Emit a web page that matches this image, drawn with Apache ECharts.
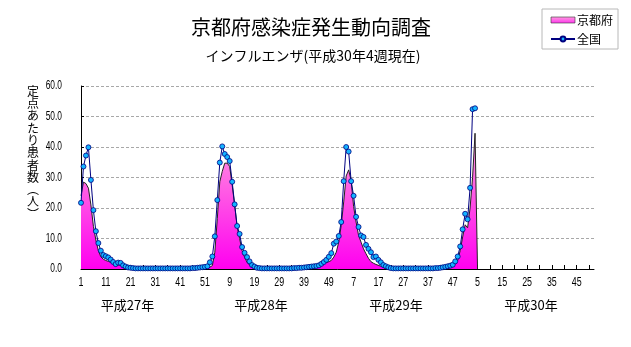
<!DOCTYPE html>
<html>
<head>
<meta charset="utf-8">
<script src="https://cdn.jsdelivr.net/npm/echarts@6/dist/echarts.min.js"></script>
<style>
html,body{margin:0;padding:0;background:#fff;}
#chart{width:631px;height:347px;}
</style>
</head>
<body>
<div id="chart"></div>
<script>
// Titles and labels
var titleText = '京都府感染症発生動向調査';
var subtitleText = 'インフルエンザ(平成30年4週現在)';
var yAxisTitle = ['定','点','あ','た','り','患','者','数','︵','人','︶'];
var yearLabels = ['平成27年', '平成28年', '平成29年', '平成30年'];
var seriesNames = ['京都府', '全国'];
var weeksPerYear = 52;
var labelEvery = 10;

// Week category labels (weeks 1..52 for each year shown)
var weekLabels = [];
for (var y = 0; y < yearLabels.length; y++) {
  for (var w = 1; w <= weeksPerYear; w++) weekLabels.push(String(w));
}

// 京都府 (per-sentinel reports), from 平成27年 week 1
var kyoto = [
  24.0, 28.5, 28.0, 26.5, 21.0, 14.0, 9.5, 6.0, 4.0, 3.2,
  2.8, 2.5, 2.2, 1.8, 1.5, 1.4, 1.2, 0.8, 0.5, 0.3,
  0.2, 0.1, 0.1, 0.1, 0.1, 0.1, 0.1, 0.1, 0.1, 0.1,
  0.1, 0.1, 0.1, 0.1, 0.1, 0.1, 0.1, 0.1, 0.1, 0.1,
  0.1, 0.1, 0.1, 0.1, 0.1, 0.1, 0.1, 0.1, 0.1, 0.1,
  0.1, 0.3, 0.6, 1.1, 5.5, 16.5, 28.6, 32.0, 34.7, 34.7,
  33.6, 27.5, 21.0, 13.8, 10.0, 6.0, 3.9, 2.2, 1.3, 0.8,
  0.5, 0.3, 0.2, 0.1, 0.1, 0.1, 0.1, 0.1, 0.1, 0.1,
  0.1, 0.1, 0.1, 0.1, 0.1, 0.1, 0.1, 0.1, 0.1, 0.1,
  0.1, 0.1, 0.1, 0.2, 0.4, 0.6, 0.9, 1.3, 1.7, 2.1,
  2.4, 2.8, 3.9, 5.5, 8.8, 14.3, 22.0, 30.5, 32.5, 29.0,
  20.5, 15.4, 11.0, 8.8, 6.6, 5.0, 3.5, 2.4, 1.9, 1.5,
  1.2, 0.9, 0.6, 0.4, 0.2, 0.1, 0.1, 0.1, 0.1, 0.1,
  0.1, 0.1, 0.1, 0.1, 0.1, 0.1, 0.1, 0.1, 0.1, 0.1,
  0.1, 0.1, 0.1, 0.1, 0.1, 0.1, 0.1, 0.2, 0.3, 0.5,
  0.8, 1.6, 2.8, 6.0, 10.5, 14.5, 13.5, 20.0, 30.0, 44.5,
  0
];

// 全国 (per-sentinel reports), from 平成27年 week 1
var national = [
  21.7, 33.6, 37.2, 39.9, 29.2, 19.3, 12.4, 8.5, 6.0, 4.6,
  4.2, 3.8, 3.1, 2.3, 1.6, 2.1, 2.0, 1.2, 0.8, 0.5,
  0.4, 0.3, 0.2, 0.2, 0.2, 0.2, 0.2, 0.2, 0.2, 0.2,
  0.2, 0.2, 0.2, 0.2, 0.2, 0.2, 0.2, 0.2, 0.2, 0.2,
  0.2, 0.2, 0.2, 0.2, 0.2, 0.3, 0.3, 0.4, 0.5, 0.6,
  0.7, 0.9, 2.2, 4.1, 10.7, 22.6, 34.9, 40.2, 37.7, 36.7,
  35.4, 28.6, 21.2, 14.1, 11.5, 7.2, 5.3, 3.9, 2.5, 1.3,
  0.8, 0.4, 0.3, 0.2, 0.2, 0.2, 0.2, 0.2, 0.2, 0.2,
  0.2, 0.2, 0.2, 0.2, 0.2, 0.2, 0.3, 0.3, 0.4, 0.4,
  0.5, 0.6, 0.7, 0.8, 0.9, 1.0, 1.2, 1.7, 2.3, 3.0,
  4.0, 5.2, 8.3, 9.0, 10.8, 15.4, 28.8, 40.0, 38.5, 28.8,
  24.0, 17.1, 13.8, 11.0, 10.5, 7.9, 6.6, 5.5, 3.9, 4.1,
  3.0, 2.2, 1.3, 0.9, 0.55, 0.3, 0.2, 0.2, 0.2, 0.2,
  0.2, 0.2, 0.2, 0.2, 0.2, 0.2, 0.2, 0.2, 0.2, 0.2,
  0.2, 0.2, 0.2, 0.3, 0.3, 0.4, 0.55, 0.7, 0.9, 1.1,
  1.4, 2.5, 4.1, 7.4, 13.0, 18.1, 16.3, 26.6, 52.4, 52.7
];

var yMin = 0, yMax = 60, yStep = 10;
var yTickValues = [0, 10, 20, 30, 40, 50, 60];

var jpFont = '"Noto Sans CJK JP", "Noto Sans", sans-serif';
var numFont = '"Liberation Sans", "DejaVu Sans", sans-serif';

var pinkGrad = new echarts.graphic.LinearGradient(0, 0, 0, 1, [
  {offset: 0, color: '#FF9EDF'},
  {offset: 0.5, color: '#FF4FE6'},
  {offset: 1, color: '#FF00F0'}
]);
var legendGrad = new echarts.graphic.LinearGradient(0, 0, 0, 1, [
  {offset: 0, color: '#FF9EDF'},
  {offset: 1, color: '#FF33EE'}
]);

var chart = echarts.init(document.getElementById('chart'), null, {renderer: 'canvas'});

var option = {
  animation: false,
  backgroundColor: '#fff',
  grid: {left: 81, right: 37, top: 86, bottom: 78, containLabel: false, outerBoundsMode: 'none'},
  legend: {
    orient: 'vertical',
    left: 542, top: 9,
    padding: [4, 5, 3, 8],
    itemGap: 5,
    itemWidth: 24,
    itemHeight: 6,
    borderColor: '#B8B8B8',
    borderWidth: 1,
    textStyle: {fontFamily: jpFont, fontSize: 12, color: '#000', lineHeight: 14, padding: [0, 0, 0, -3]},
    data: [
      {name: seriesNames[0], icon: 'rect', itemStyle: {color: legendGrad, borderColor: '#333', borderWidth: 0.6}},
      {name: seriesNames[1]}
    ]
  },
  xAxis: {
    type: 'category',
    data: weekLabels,
    boundaryGap: false,
    axisLine: {show: true, lineStyle: {color: '#000', width: 1}},
    axisTick: {show: true, inside: true, length: 4, interval: 4, lineStyle: {color: '#000'}},
    axisLabel: {show: false},
    splitLine: {show: false}
  },
  yAxis: {
    type: 'value',
    min: yMin, max: yMax, interval: yStep,
    axisLine: {show: true, lineStyle: {color: '#000', width: 1}},
    axisTick: {show: true, inside: true, length: 3, lineStyle: {color: '#000'}},
    axisLabel: {show: false},
    splitLine: {show: true, lineStyle: {color: '#A8A8A8', type: [3, 2], width: 1}}
  },
  series: [
    {
      name: seriesNames[0],
      type: 'line',
      data: kyoto,
      symbol: 'none',
      z: 2,
      color: '#FF55DD',
      lineStyle: {color: '#222', width: 1},
      areaStyle: {color: pinkGrad, opacity: 1}
    },
    {
      name: seriesNames[1],
      type: 'line',
      data: national,
      z: 3,
      symbol: 'circle',
      symbolSize: 5,
      showAllSymbol: true,
      color: '#14B4FF',
      lineStyle: {color: '#000080', width: 1},
      itemStyle: {color: '#14B4FF', borderColor: '#000080', borderWidth: 0.8}
    }
  ]
};

chart.setOption(option);

// Text elements (titles, axis title, tick labels placed via the chart's own scales)
var graphics = [
  {type: 'text', x: 311, y: 27, style: {text: titleText, font: '20px ' + jpFont, fill: '#000', textAlign: 'center', textVerticalAlign: 'middle'}},
  {type: 'text', x: 313, y: 56, style: {text: subtitleText, font: '14px ' + jpFont, fill: '#000', textAlign: 'center', textVerticalAlign: 'middle'}},
  {type: 'text', x: 33, y: 85, style: {text: yAxisTitle.join('\n'), font: '12px ' + jpFont, lineHeight: 12.3, fill: '#000', textAlign: 'center', textVerticalAlign: 'top'}}
];
var yearX = [127.5, 261, 396, 531];
for (var i = 0; i < yearLabels.length; i++) {
  graphics.push({type: 'text', x: yearX[i], y: 305, style: {text: yearLabels[i], font: '13px ' + jpFont, fill: '#000', textAlign: 'center', textVerticalAlign: 'middle'}});
}
for (var k = 0; k < yTickValues.length; k++) {
  var py = chart.convertToPixel({yAxisIndex: 0}, yTickValues[k]);
  graphics.push({type: 'text', x: 62, y: py, scaleX: 0.7,
    style: {text: yTickValues[k].toFixed(1), font: '12px ' + numFont, fill: '#000', textAlign: 'right', textVerticalAlign: 'middle'}});
}
var yBase = chart.convertToPixel({yAxisIndex: 0}, 0);
for (var j = 0; j < weekLabels.length; j += labelEvery) {
  var px = chart.convertToPixel({xAxisIndex: 0}, j);
  graphics.push({type: 'text', x: px, y: yBase + 14, scaleX: 0.74,
    style: {text: weekLabels[j], font: '12px ' + numFont, fill: '#000', textAlign: 'center', textVerticalAlign: 'middle'}});
}
chart.setOption({graphic: graphics});
</script>
</body>
</html>
